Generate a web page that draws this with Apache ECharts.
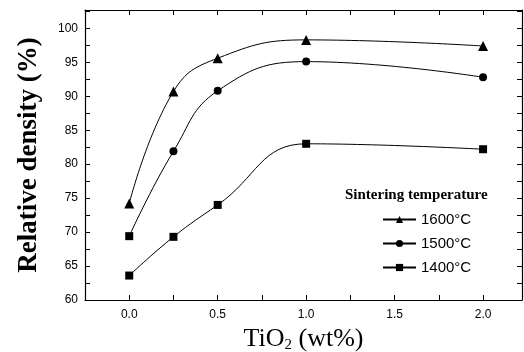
<!DOCTYPE html>
<html>
<head>
<meta charset="utf-8">
<script src="https://cdn.jsdelivr.net/npm/echarts@6/dist/echarts.min.js"></script>
<style>
  html, body { margin: 0; padding: 0; background: #fff; }
  #chart { width: 524px; height: 352px; }
</style>
</head>
<body>
<div id="chart"></div>
<script>
// TiO2 content (wt%)
const tio2 = [0, 0.25, 0.5, 1.0, 2.0];
const density1600 = [74.2, 90.7, 95.6, 98.3, 97.4];
const density1500 = [69.4, 81.9, 90.8, 95.1, 92.8];
const density1400 = [63.6, 69.3, 74.0, 83.0, 82.2];
const seriesNames = ['1600°C', '1500°C', '1400°C'];
const xLabels = [0, 0.5, 1.0, 1.5, 2.0];
const xTicks = [0, 0.25, 0.5, 0.75, 1.0, 1.25, 1.5, 1.75, 2.0];
const yLabels = [60, 65, 70, 75, 80, 85, 90, 95, 100];
const yTicks = [60, 62.5, 65, 67.5, 70, 72.5, 75, 77.5, 80, 82.5, 85, 87.5, 90, 92.5, 95, 97.5, 100, 102.5];

const chart = echarts.init(document.getElementById('chart'));

const pairs = vals => tio2.map((x, i) => [x, vals[i]]);
const axisLine = { show: true, onZero: false, lineStyle: { color: '#000', width: 1.2 } };
const sansLabel = { color: '#000', fontFamily: 'Liberation Sans', fontSize: 12 };

function lineSeries(name, vals, symbol) {
    return {
        name: name, type: 'line', smooth: 0.45,
        data: pairs(vals),
        symbol: symbol, symbolSize: symbol === 'triangle' ? 10 : 8,
        itemStyle: { color: '#000' },
        lineStyle: { color: '#000', width: 1 }
    };
}

const s1500 = lineSeries(seriesNames[1], density1500, 'circle');
// first point of the 1500 series is drawn as a square in the original
s1500.data[0] = { value: s1500.data[0], symbol: 'rect' };

chart.setOption({
    animation: false,
    grid: { left: 85, right: 2, top: 10, bottom: 52, outerBoundsMode: 'none' },
    legend: {
        orient: 'vertical', left: 377, top: 207, itemGap: 9,
        itemWidth: 33, itemHeight: 9,
        data: seriesNames,
        textStyle: { color: '#000', fontFamily: 'Liberation Sans', fontSize: 15 }
    },
    graphic: [{
        type: 'text', left: 345, top: 188,
        style: { text: 'Sintering temperature', fill: '#000', font: 'bold 15px "Liberation Serif"' }
    }],
    xAxis: [{
        type: 'value', min: -0.25, max: 2.22,
        name: 'TiO{sub|2} (wt%)', nameLocation: 'middle', nameGap: 24,
        nameTextStyle: {
            color: '#000', fontFamily: 'Liberation Serif', fontSize: 26,
            rich: { sub: { fontFamily: 'Liberation Serif', fontSize: 15, verticalAlign: 'bottom', padding: [12, 0, 0, 0] } }
        },
        axisLine: axisLine,
        axisTick: { show: true, inside: true, length: 5, customValues: xTicks, lineStyle: { color: '#000' } },
        axisLabel: Object.assign({ customValues: xLabels, margin: 9, formatter: v => v.toFixed(1) }, sansLabel),
        splitLine: { show: false }
    }, {
        type: 'value', min: -0.25, max: 2.22, position: 'top',
        axisLine: axisLine,
        axisTick: { show: true, inside: true, length: 5, customValues: xTicks, lineStyle: { color: '#000' } },
        axisLabel: { show: false },
        splitLine: { show: false }
    }],
    yAxis: [{
        type: 'value', min: 60, max: 102.7,
        name: 'Relative density (%)', nameLocation: 'middle', nameGap: 42,
        nameTextStyle: { color: '#000', fontFamily: 'Liberation Serif', fontSize: 27, fontWeight: 'bold' },
        axisLine: axisLine,
        axisTick: { show: true, inside: true, length: 5, customValues: yTicks, lineStyle: { color: '#000' } },
        axisLabel: Object.assign({ customValues: yLabels, margin: 7 }, sansLabel),
        splitLine: { show: false }
    }, {
        type: 'value', min: 60, max: 102.7, position: 'right',
        axisLine: axisLine,
        axisTick: { show: true, inside: true, length: 5, customValues: yTicks, lineStyle: { color: '#000' } },
        axisLabel: { show: false },
        splitLine: { show: false }
    }],
    series: [
        lineSeries(seriesNames[0], density1600, 'triangle'),
        s1500,
        lineSeries(seriesNames[2], density1400, 'rect')
    ]
});
</script>
</body>
</html>
